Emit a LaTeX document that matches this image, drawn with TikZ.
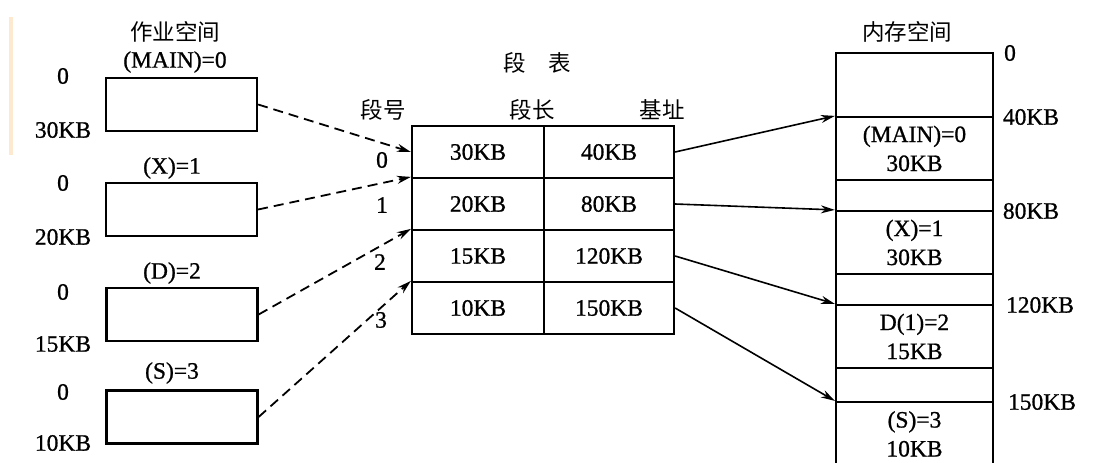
\documentclass[tikz,border=0pt]{standalone}
\usepackage{fontspec}
\setmainfont{Liberation Serif}[FakeBold=0.8]
\newfontfamily\cjk{Noto Sans CJK SC}
\usetikzlibrary{arrows.meta,calc}
\begin{document}
\begin{tikzpicture}[x=1pt,y=-1pt,
  every node/.style={font=\fontsize{23.5}{29}\selectfont, inner sep=0pt},
  frame/.style={draw, line width=2.2pt},
  jobbox/.style={frame, minimum width=151pt, minimum height=53pt},
  cellA/.style={frame, minimum width=132pt, minimum height=52pt},
  cellB/.style={frame, minimum width=130pt, minimum height=52pt},
  seg/.style={frame, minimum width=157pt, align=center},
  cn/.style={font=\cjk\fontsize{22.5}{26}\selectfont},
  dconn/.style={line width=1.8pt, dash pattern=on 10pt off 6pt, -{Stealth[length=14pt,width=8pt]}},
  sconn/.style={line width=1.6pt, -{Stealth[length=14pt,width=8pt]}}
]
\useasboundingbox (0,0) rectangle (1106,463);
\fill[white] (0,0) rectangle (1106,463);
\draw[color={rgb,255:red,253;green,233;blue,207}, line width=4pt] (10.5,17) -- (10.5,155);

% job space
\node[cn] (jobtitle) at (175,32) {作业空间};
\node[jobbox] (b0) at (181.5,104.5) {};
\node[jobbox] (b1) at (181.5,209.5) {};
\node[jobbox] (b2) at (182,314.5) {};
\node[jobbox] (b3) at (182,417) {};
\node (n0) at (175,62) {(MAIN)=0};
\node (n1) at (172,168) {(X)=1};
\node (n2) at (172,273) {(D)=2};
\node (n3) at (172,373) {(S)=3};
\node (z0) at (63,76) {0};
\node (k0) at (63,130) {30KB};
\node (z1) at (63,183) {0};
\node (k1) at (63,237) {20KB};
\node (z2) at (63,292) {0};
\node (k2) at (63,344) {15KB};
\node (z3) at (63,392) {0};
\node (k3) at (63,443) {10KB};

% segment table
\node[cn] (ttitle) at (537,63) {段\hspace{1em}表};
\node[cn] (h0) at (383,110) {段号};
\node[cn] (h1) at (532,110) {段长};
\node[cn] (h2) at (662,110) {基址};
\node[cellA] (l0) at (478,152) {30KB};
\node[cellB] (a0) at (609,152) {40KB};
\node[cellA] (l1) at (478,204) {20KB};
\node[cellB] (a1) at (609,204) {80KB};
\node[cellA] (l2) at (478,256) {15KB};
\node[cellB] (a2) at (609,256) {120KB};
\node[cellA] (l3) at (478,308) {10KB};
\node[cellB] (a3) at (609,308) {150KB};
\node (r0) at (382,160) {0};
\node (r1) at (382,205) {1};
\node (r2) at (380,262) {2};
\node (r3) at (381,320) {3};

% memory space
\node[cn] (mtitle) at (907,32) {内存空间};
\coordinate (mtl) at (836,53);
\coordinate (mtr) at (993,53);
\draw[frame] (836,480) -- (mtl) -- (mtr) -- (993,480);
\node[seg, minimum height=63pt] (s0) at (914.5,148.5) {(MAIN)=0\\30KB};
\node[seg, minimum height=63pt] (s1) at (914.5,242.5) {(X)=1\\30KB};
\node[seg, minimum height=63pt] (s2) at (914.5,336.5) {D(1)=2\\15KB};
\node[seg, minimum height=64pt] (s3) at (914.5,434) {(S)=3\\10KB};
\node (m0) at (1010,53) {0};
\node (m1) at (1031,117) {40KB};
\node (m2) at (1031,211) {80KB};
\node (m3) at (1040,305) {120KB};
\node (m4) at (1042,402) {150KB};

% connectors
\draw[dconn] (b0.east) -- (l0.west);
\draw[dconn] (b1.east) -- (l1.north west);
\draw[dconn] (b2.east) -- (l2.north west);
\draw[dconn] (b3.east) -- (l3.north west);
\draw[sconn] (a0.east) -- (s0.north west);
\draw[sconn] (a1.east) -- (s1.north west);
\draw[sconn] (a2.east) -- (s2.north west);
\draw[sconn] (a3.east) -- (s3.north west);
\end{tikzpicture}
\end{document}
